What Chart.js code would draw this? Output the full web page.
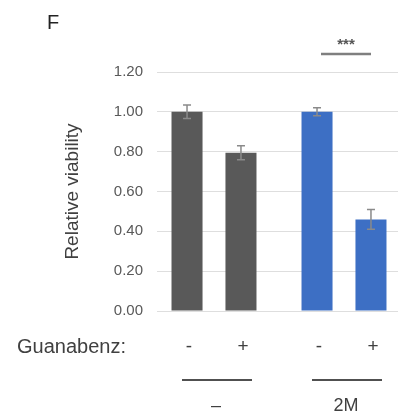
<!DOCTYPE html>
<html>
<head>
<meta charset="utf-8">
<script src="https://cdn.jsdelivr.net/npm/chart.js@4/dist/chart.umd.min.js"></script>
<style>
  html, body { margin: 0; padding: 0; background: #fff; overflow: hidden; }
  #wrap { position: relative; width: 398px; height: 411px; overflow: hidden; }
  canvas { display: block; }
</style>
</head>
<body>
<div id="wrap"><canvas id="chart" width="409" height="411"></canvas></div>
<script>
// Stress condition groups and Guanabenz treatment
const groups = ['–', '2M'];
const treatments = ['-', '+'];
const treatmentLabel = 'Guanabenz:';
const panelLabel = 'F';

// Relative viability (mean) and error per treatment, one entry per group
const viabilityMinus = [1.00, 1.00];
const viabilityPlus = [0.795, 0.46];
const errorMinus = [0.034, 0.02];
const errorPlus = [0.035, 0.05];

// Significance marks: group index and label
const significance = [{ group: 1, label: '***' }];

const yTickLabels = ['0.00', '0.20', '0.40', '0.60', '0.80', '1.00', '1.20'];
const groupColors = ['#595959', '#3d6fc4'];

const FONT = '"Liberation Sans", Arial, sans-serif';
const TEXT = '#404040';
const errors = [errorMinus, errorPlus];

const annotate = {
  id: 'annotate',
  beforeDatasetsDraw(chart) {
    // plot area starts slightly right of the scale edge
    const { ctx, chartArea } = chart;
    ctx.save();
    ctx.fillStyle = '#fff';
    ctx.fillRect(chartArea.left - 1, chartArea.top - 2, 9, chartArea.bottom - chartArea.top + 4);
    ctx.restore();
  },
  afterDatasetsDraw(chart) {
    const { ctx } = chart;
    const y = chart.scales.y;
    const metas = [chart.getDatasetMeta(0), chart.getDatasetMeta(1)];

    // error bars
    ctx.save();
    ctx.strokeStyle = '#8a8a8a';
    ctx.lineWidth = 1.5;
    metas.forEach((meta, i) => {
      meta.data.forEach((bar, j) => {
        const v = chart.data.datasets[i].data[j];
        const e = errors[i][j];
        const top = y.getPixelForValue(v + e);
        const bot = y.getPixelForValue(v - e);
        ctx.beginPath();
        ctx.moveTo(bar.x, top); ctx.lineTo(bar.x, bot);
        ctx.moveTo(bar.x - 4, top); ctx.lineTo(bar.x + 4, top);
        ctx.moveTo(bar.x - 4, bot); ctx.lineTo(bar.x + 4, bot);
        ctx.stroke();
      });
    });
    ctx.restore();

    ctx.save();
    // panel letter
    ctx.fillStyle = '#222';
    ctx.font = '20px ' + FONT;
    ctx.textAlign = 'left';
    ctx.textBaseline = 'middle';
    ctx.fillText(panelLabel, 47, 23);

    // significance bars
    significance.forEach(s => {
      const a = metas[0].data[s.group].x, b = metas[1].data[s.group].x;
      const c = (a + b) / 2 + 2;
      ctx.strokeStyle = '#7f7f7f';
      ctx.lineWidth = 2.5;
      ctx.beginPath();
      ctx.moveTo(c - 25, 54); ctx.lineTo(c + 25, 54);
      ctx.stroke();
      ctx.fillStyle = '#555';
      ctx.font = 'bold 15px ' + FONT;
      ctx.textAlign = 'center';
      ctx.fillText(s.label, c, 45);
    });

    // treatment row
    ctx.fillStyle = TEXT;
    ctx.font = '20px ' + FONT;
    ctx.textAlign = 'left';
    ctx.fillText(treatmentLabel, 17, 347);
    ctx.font = '19px ' + FONT;
    ctx.textAlign = 'center';
    metas.forEach((meta, i) => {
      meta.data.forEach(bar => ctx.fillText(treatments[i], bar.x + 2, 347));
    });

    // group underlines and group names
    metas[0].data.forEach((bar, j) => {
      const c = (bar.x + metas[1].data[j].x) / 2 + 3;
      ctx.strokeStyle = '#505050';
      ctx.lineWidth = 2;
      ctx.beginPath();
      ctx.moveTo(c - 35, 380); ctx.lineTo(c + 35, 380);
      ctx.stroke();
      ctx.font = '18px ' + FONT;
      ctx.fillText(groups[j], c - 1, 406);
    });
    ctx.restore();
  }
};

new Chart(document.getElementById('chart'), {
  type: 'bar',
  data: {
    labels: groups,
    datasets: [
      { label: treatments[0], data: viabilityMinus, backgroundColor: groupColors,
        categoryPercentage: 0.83, barPercentage: 0.575 },
      { label: treatments[1], data: viabilityPlus, backgroundColor: groupColors,
        categoryPercentage: 0.83, barPercentage: 0.575 }
    ]
  },
  options: {
    responsive: false,
    animation: false,
    layout: { padding: { top: 72, right: 0, left: 0, bottom: 0 } },
    plugins: { legend: { display: false }, tooltip: { enabled: false } },
    scales: {
      x: {
        grid: { display: false, drawTicks: false },
        border: { display: false },
        ticks: { display: false, padding: 0 },
        afterFit(scale) { scale.height = 100; }
      },
      y: {
        min: 0, max: 1.2,
        ticks: {
          stepSize: 0.2, padding: 6, color: '#595959',
          font: { family: FONT, size: 15 },
          callback: (v, i) => yTickLabels[i]
        },
        grid: { color: '#dedede', lineWidth: 1, drawTicks: false },
        border: { display: false },
        title: {
          display: true, text: 'Relative viability', color: TEXT,
          font: { family: FONT, size: 19 }, padding: { top: 61, bottom: 0 }
        },
        afterFit(scale) { scale.width = 149; }
      }
    }
  },
  plugins: [annotate]
});
</script>
</body>
</html>
